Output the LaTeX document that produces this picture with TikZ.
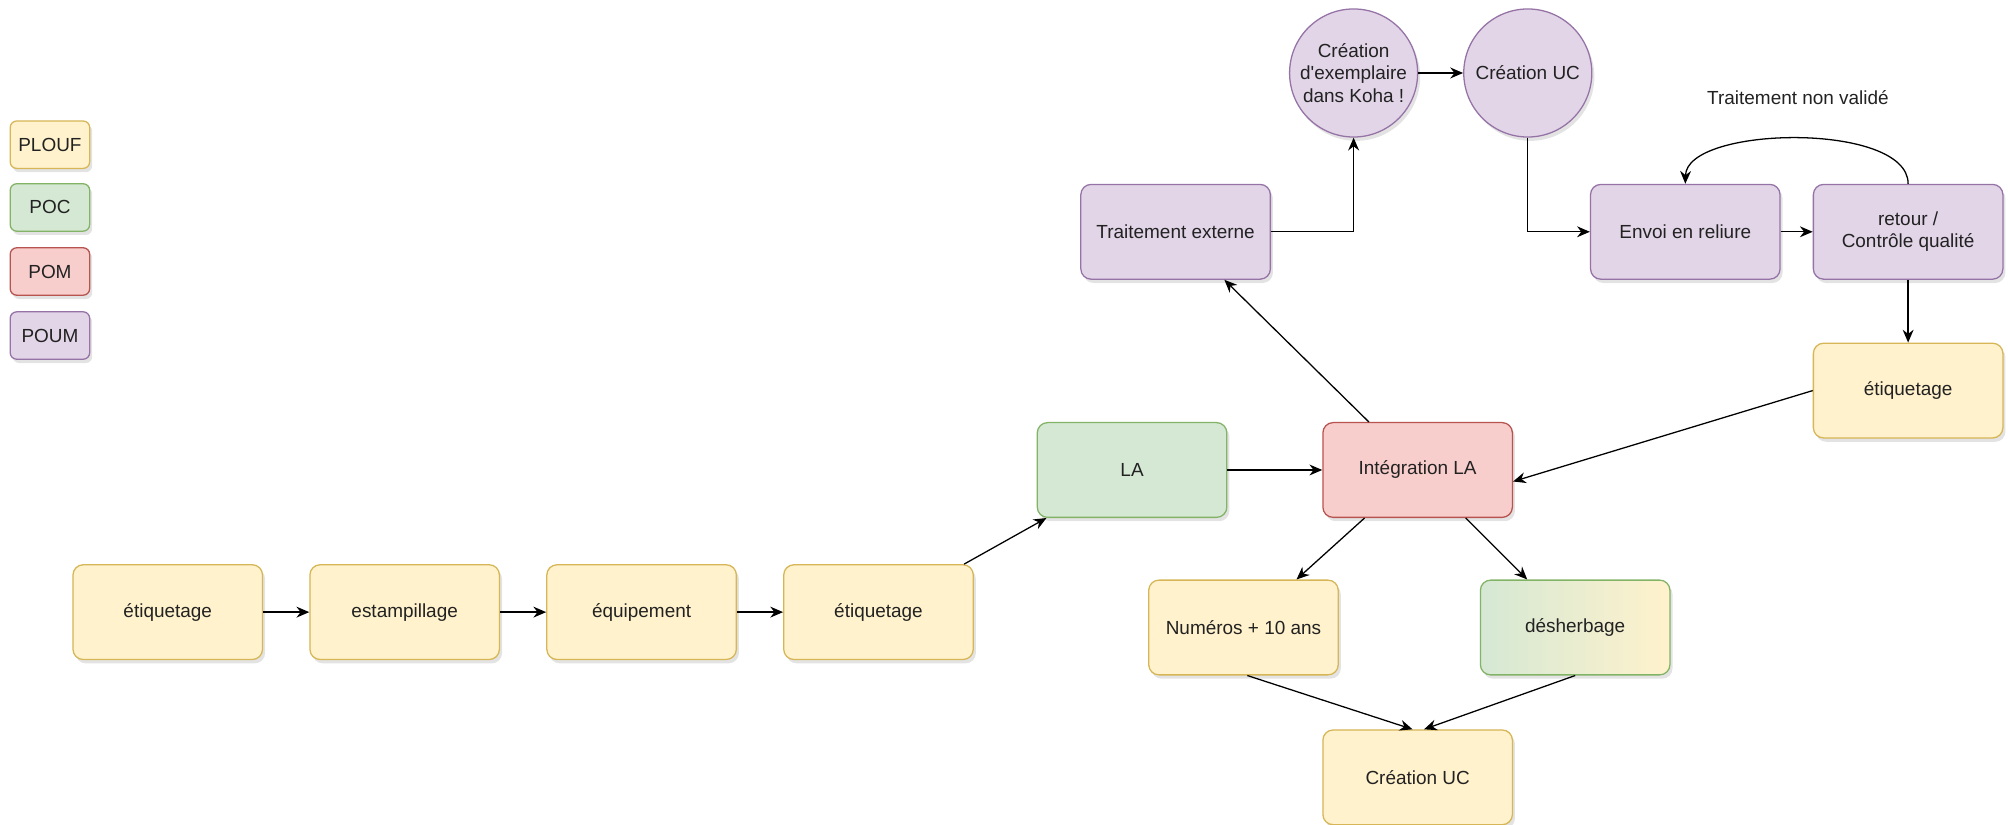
\documentclass[tikz,border=0pt]{standalone}
\usepackage{fontspec}
\setmainfont{Liberation Sans}[Ligatures=TeXOff]
\usetikzlibrary{arrows.meta,shadows,calc}
\definecolor{yfill}{HTML}{FFF2CC}\definecolor{ystroke}{HTML}{D6B656}
\definecolor{gfill}{HTML}{D5E8D4}\definecolor{gstroke}{HTML}{82B366}
\definecolor{rfill}{HTML}{F8CECC}\definecolor{rstroke}{HTML}{B85450}
\definecolor{pfill}{HTML}{E1D5E7}\definecolor{pstroke}{HTML}{9673A6}
\definecolor{txt}{HTML}{222222}
\begin{document}
\begin{tikzpicture}[x=1pt,y=-1pt,
  base/.style={draw, line width=1pt, align=center, text=txt,
    font=\fontsize{14.8}{17.5}\selectfont,
    drop shadow={opacity=0.22,shadow xshift=2pt,shadow yshift=-3pt}},
  box/.style={base, rounded corners=8pt, minimum width=148pt, minimum height=74pt},
  lbox/.style={base, rounded corners=5pt, minimum width=62pt, minimum height=37pt},
  circ/.style={base, circle, minimum size=100pt, inner sep=0pt, fill=pfill, draw=pstroke},
  yel/.style={fill=yfill, draw=ystroke},
  grn/.style={fill=gfill, draw=gstroke},
  red/.style={fill=rfill, draw=rstroke},
  pur/.style={fill=pfill, draw=pstroke},
  arr/.style={-{Stealth[length=10pt,width=8.5pt]}, line width=1pt, black}]
\useasboundingbox (0,0) rectangle (1568,644);

% legend
\node[lbox,yel] (lplouf) at (39,113) {PLOUF};
\node[lbox,grn] (lpoc) at (39,162) {POC};
\node[lbox,red] (lpom) at (39,212) {POM};
\node[lbox,pur] (lpoum) at (39,262) {POUM};

% bottom row
\node[box,yel] (e1) at (131,478) {étiquetage};
\node[box,yel] (est) at (316,478) {estampillage};
\node[box,yel] (equ) at (501,478) {équipement};
\node[box,yel] (e2) at (686,478) {étiquetage};

\node[box,grn] (la) at (884,367) {LA};
\node[box,red] (integ) at (1107,367) {Intégration LA};
\node[box,pur] (te) at (918,181) {Traitement externe};
\node[circ] (c1) at (1057,57) {Création\\d'exemplaire\\dans Koha !};
\node[circ] (c2) at (1193,57) {Création UC};
\node[box,pur] (envoi) at (1316,181) {Envoi en reliure};
\node[box,pur] (retour) at (1490,181) {retour /\\Contrôle qualité};
\node[box,yel] (e3) at (1490,305) {étiquetage};
\node[box,yel] (num) at (971,490) {Numéros + 10 ans};
\node[box, draw=gstroke, left color=gfill, right color=yfill] (desh) at (1230,490) {désherbage};
\node[box,yel] (cuc) at (1107,607) {Création UC};

\node[font=\fontsize{14.8}{17.5}\selectfont, text=txt] (tnv) at (1404,76) {Traitement non validé};

% connectors
\draw[arr] (e1) -- (est);
\draw[arr] (est) -- (equ);
\draw[arr] (equ) -- (e2);
\draw[arr] (e2) -- (la);
\draw[arr] (la) -- (integ);
\draw[arr] (integ) -- (te);
\draw[arr] (te.east) -| (c1.south);
\draw[arr] (c1) -- (c2);
\draw[arr] (c2.south) |- (envoi.west);
\draw[arr] (envoi) -- (retour);
\draw[arr] (retour.north) .. controls (1490,95) and (1317,98) .. (envoi.north);
\draw[arr] (retour) -- (e3);
\draw[arr] (e3.west) -- ([yshift=-9pt]integ.east);
\draw[arr] (integ) -- (num);
\draw[arr] (integ) -- (desh);
\draw[arr] ([xshift=3pt]num.south) -- ([xshift=-4pt]cuc.north);
\draw[arr] (desh.south) -- ([xshift=5pt]cuc.north);
\end{tikzpicture}
\end{document}
